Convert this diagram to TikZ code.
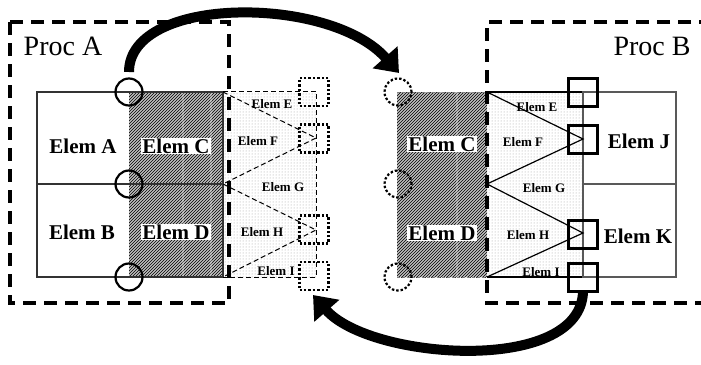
\documentclass[tikz,border=0pt]{standalone}
\usepackage{fontspec}
\setmainfont{Liberation Serif}
\usetikzlibrary{patterns,arrows.meta}
\begin{document}
\begin{tikzpicture}[x=1pt,y=-1pt,
  procbox/.style={draw, line width=3.6pt, dash pattern=on 13pt off 8pt},
  hatchbase/.style={fill=gray!50},
  hatchfill/.style={pattern=north east lines, pattern color=black},
  dotfill/.style={pattern=dots, pattern color=gray!75},
  stripe/.style={white, opacity=0.25, line width=1.5pt},
  gridline/.style={black!80, line width=1.5pt},
  biglab/.style={font=\fontsize{21}{23}\selectfont\bfseries, inner sep=1pt},
  smalllab/.style={font=\fontsize{13}{14}\selectfont\bfseries, inner sep=0.5pt},
  proclab/.style={font=\fontsize{28}{30}\selectfont, inner sep=0pt},
  ring/.style={circle, draw, line width=2.2pt, minimum size=27pt, inner sep=0pt},
  dring/.style={ring, dash pattern=on 2.4pt off 2pt},
  port/.style={rectangle, draw, line width=2.6pt, minimum width=29pt, minimum height=28pt, inner sep=0pt},
  dport/.style={port, dash pattern=on 2.4pt off 2pt},
  link/.style={line width=1.2pt},
  dlink/.style={line width=1pt, dash pattern=on 5pt off 3pt},
  bigarrow/.style={line width=10pt, -{Triangle[length=21pt,width=32pt]}}
]
\useasboundingbox[fill=white] (0,0) rectangle (701,364);

% ---------- fills ----------
\fill[hatchbase] (129,92) rectangle (223,277);
\fill[hatchfill] (129,92) rectangle (223,277);
\draw[stripe] (183,92) -- (183,277);
\draw[stripe] (211,92) -- (211,277);
\fill[dotfill] (223,92) rectangle (316,277);

\fill[hatchbase] (397,92) rectangle (487,277);
\fill[hatchfill] (397,92) rectangle (487,277);
\draw[stripe] (457,92) -- (457,277);
\fill[dotfill] (487,92) rectangle (583,277);

% ---------- left grid ----------
\draw[gridline] (37,92) rectangle (223,277);
\draw[gridline] (37,184) -- (223,184);
\draw[dlink] (223,91) -- (316,91) -- (316,277) -- (223,277);

% ---------- right grid ----------
\draw[gray, line width=1pt, dash pattern=on 3pt off 2pt] (397,92) -- (487,92);
\draw[gray, line width=1pt, dash pattern=on 3pt off 2pt] (397,277) -- (487,277);
\draw[line width=1.5pt] (487,92) -- (583,92);
\draw[line width=1.5pt] (487,277) -- (583,277);
\draw[black!65, line width=1.5pt] (583,92) rectangle (676,277);
\draw[black!65, line width=1.5pt] (583,184) -- (676,184);

% ---------- process boxes ----------
\draw[procbox] (10,22) rectangle (229,303);
\draw[procbox] (712,22) -- (487,22) -- (487,303) -- (712,303);

% ---------- link end points ----------
\coordinate (lT) at (223,92);
\coordinate (lM) at (223,184);
\coordinate (lB) at (223,277);
\coordinate (lF) at (316,138);
\coordinate (lH) at (316,230);
\coordinate (rT) at (487,92);
\coordinate (rM) at (487,184);
\coordinate (rB) at (487,277);
\coordinate (rF) at (583,139);
\coordinate (rH) at (583,233);

\draw[dlink] (lT) -- (lF) -- (lM) -- (lH) -- (lB);
\draw[link] (rT) -- (rF) -- (rM) -- (rH) -- (rB);

% ---------- labels ----------
\node[proclab] (procA) at (63,46) {Proc A};
\node[proclab] (procB) at (652,46) {Proc B};

\node[biglab] (eA) at (83,146) {Elem A};
\node[biglab] (eB) at (82,232) {Elem B};
\node[biglab, fill=white] (eC) at (176,146) {Elem C};
\node[biglab, fill=white] (eD) at (176,232) {Elem D};
\node[biglab, fill=white] (eC2) at (442,144) {Elem C};
\node[biglab, fill=white] (eD2) at (442,233) {Elem D};
\node[biglab] (eJ) at (639,141) {Elem J};
\node[biglab] (eK) at (638,236) {Elem K};

\node[smalllab] (sE) at (272,104) {Elem E};
\node[smalllab] (sF) at (258,141) {Elem F};
\node[smalllab] (sG) at (283,187) {Elem G};
\node[smalllab] (sH) at (262,232) {Elem H};
\node[smalllab] (sI) at (276,271) {Elem I};

\node[smalllab] (tE) at (537,107) {Elem E};
\node[smalllab] (tF) at (523,142) {Elem F};
\node[smalllab] (tG) at (544,188) {Elem G};
\node[smalllab] (tH) at (528,235) {Elem H};
\node[smalllab] (tI) at (541,272) {Elem I};

% ---------- rings ----------
\node[ring] (cA1) at (129,92) {};
\node[ring] (cA2) at (129,184) {};
\node[ring] (cA3) at (129,277) {};
\node[dring] (cB1) at (398,92) {};
\node[dring] (cB2) at (398,184) {};
\node[dring] (cB3) at (398,277) {};

% ---------- ports ----------
\node[dport] (pE) at (314,92) {};
\node[dport] (pF) at (314,138.5) {};
\node[dport] (pH) at (314,229.5) {};
\node[dport] (pI) at (314,276) {};
\node[port] (qE) at (583,92.5) {};
\node[port] (qF) at (583,139.5) {};
\node[port] (qH) at (583,234.5) {};
\node[port] (qI) at (583,277.5) {};

% ---------- big arrows ----------
\coordinate (a1s) at (129,72);
\coordinate (a1e) at (399,73);
\coordinate (a2s) at (583,292);
\coordinate (a2e) at (313,295);
\draw[bigarrow] (a1s) .. controls (129,-5) and (330,-5) .. (a1e);
\draw[bigarrow] (a2s) .. controls (580,375) and (370,360) .. (a2e);
\end{tikzpicture}
\end{document}
